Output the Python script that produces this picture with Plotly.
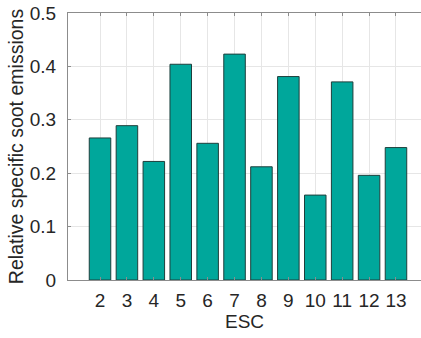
import plotly.graph_objects as go

# ESC test points and relative specific soot emissions
esc_points = [2, 3, 4, 5, 6, 7, 8, 9, 10, 11, 12, 13]
soot_rel = [0.266, 0.289, 0.222, 0.404, 0.256, 0.423, 0.212, 0.381, 0.159, 0.371, 0.196, 0.248]

y_ticks = [0, 0.1, 0.2, 0.3, 0.4, 0.5]
y_tick_text = ["0", "0.1", "0.2", "0.3", "0.4", "0.5"]

FONT = "Liberation Sans, Arial, Helvetica, sans-serif"
TEXT = "#262626"
AXIS = "#8c8c8c"
GRID = "#e6e6e6"

fig = go.Figure(
    go.Bar(
        x=esc_points,
        y=soot_rel,
        width=0.8,
        marker=dict(color="#00a79b", line=dict(color="#1e3f3c", width=1)),
    )
)

fig.update_layout(
    width=421,
    height=338,
    margin=dict(l=68, r=0, t=13, b=58),
    paper_bgcolor="white",
    plot_bgcolor="white",
    showlegend=False,
    font=dict(family=FONT, size=19, color=TEXT),
)

fig.update_xaxes(
    range=[0.81, 13.93],
    tickvals=esc_points,
    ticktext=[str(v) for v in esc_points],
    ticks="inside",
    ticklen=3,
    tickcolor=AXIS,
    showline=True,
    linecolor=AXIS,
    linewidth=1,
    mirror="ticks",
    showgrid=True,
    gridcolor=GRID,
    zeroline=False,
    tickfont=dict(size=19, color=TEXT),
    ticklabelstandoff=3,
    title=dict(text="ESC", font=dict(size=19, color=TEXT), standoff=1),
)

fig.update_yaxes(
    range=[0, 0.5],
    tickvals=y_ticks,
    ticktext=y_tick_text,
    ticks="inside",
    ticklen=3,
    tickcolor=AXIS,
    showline=True,
    linecolor=AXIS,
    linewidth=1,
    mirror=False,
    showgrid=True,
    gridcolor=GRID,
    zeroline=False,
    tickfont=dict(size=19, color=TEXT),
    ticklabelstandoff=7,
    title=dict(text="Relative specific soot emissions", font=dict(size=19.5, color=TEXT), standoff=0),
)

fig.write_html("out.html")
